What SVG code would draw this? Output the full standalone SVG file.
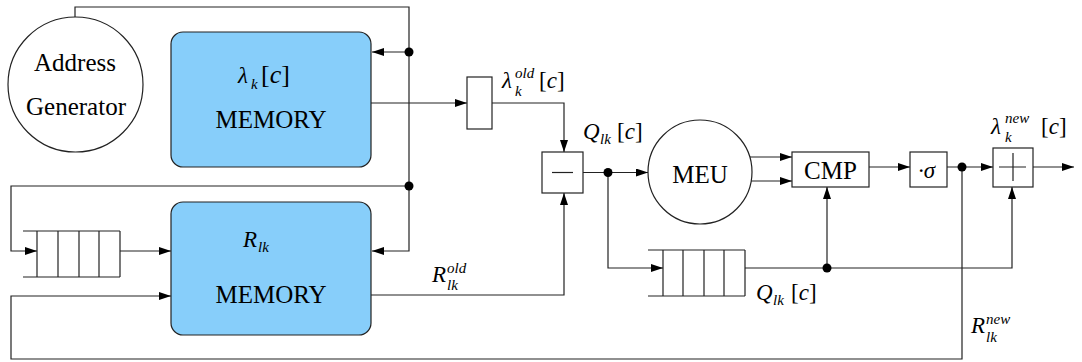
<svg xmlns="http://www.w3.org/2000/svg" width="1082" height="362" viewBox="0 0 1082 362">
<style>
.ln{fill:none;stroke:#222;stroke-width:1.2}
.ar{marker-end:url(#ah)}
.bx{fill:#fff;stroke:#222;stroke-width:1.2}
.mem{fill:#87cefa;stroke:#222;stroke-width:1.2}
text{font-family:'Liberation Serif',Tinos,'Times New Roman',Times,'Nimbus Roman',FreeSerif,'Noto Serif','DejaVu Serif',serif;fill:#000}
.t{font-size:25px;text-anchor:middle}
.m{font-size:23px;font-style:italic}
.s{font-size:15px;font-style:italic}
.i{font-style:italic}
.u{font-style:normal}
.dot{fill:#000}
</style>
<defs>
<marker id="ah" markerUnits="userSpaceOnUse" markerWidth="13" markerHeight="9" refX="12" refY="4" orient="auto">
<path d="M0,0 L12,4 L0,8 z" fill="#000"/>
</marker>
</defs>
<rect width="1082" height="362" fill="#fff"/>

<g id="connectors">
<path class="ln ar" d="M75,17 V7 H409 V251 H372"/>
<path class="ln ar" d="M409,52 H372"/>
<path class="ln ar" d="M409,186 H11 V251 H37"/>
<path class="ln ar" d="M120,251 H171"/>
<path class="ln ar" d="M962,167 V359 H11 V296 H171"/>
<path class="ln ar" d="M371,103 H467"/>
<path class="ln ar" d="M492,103 H564 V152"/>
<path class="ln ar" d="M371,295 H564 V193"/>
<path class="ln ar" d="M583,172.5 H648"/>
<path class="ln ar" d="M608,172.5 V268 H663"/>
<path class="ln ar" d="M750,157 H792"/>
<path class="ln ar" d="M751,181 H792"/>
<path class="ln ar" d="M745,268 H1012 V187"/>
<path class="ln ar" d="M827,268 V187"/>
<path class="ln ar" d="M869,167 H910"/>
<path class="ln ar" d="M947,167 H993"/>
<path class="ln ar" d="M1033,167 H1074"/>
<circle class="dot" cx="409" cy="52" r="4.5"/>
<circle class="dot" cx="409" cy="186" r="4.5"/>
<circle class="dot" cx="608" cy="172.5" r="4.5"/>
<circle class="dot" cx="827" cy="268" r="4.5"/>
<circle class="dot" cx="962" cy="167" r="4.5"/>
</g>

<g id="address-generator">
<circle class="bx" cx="75.5" cy="84.5" r="67.5"/>
<text class="t" x="75" y="71" font-size="23">Address</text>
<text class="t" x="76" y="115" font-size="23">Generator</text>
</g>

<g id="lambda-memory">
<rect class="mem" x="171" y="32" width="200" height="135" rx="12"/>
<text class="m" x="238" y="83" font-size="26">λ</text>
<text class="s" x="251" y="89">k</text>
<text class="u" x="261" y="83" font-size="26">[<tspan class="i">c</tspan>]</text>
<text class="t" x="271" y="128" font-size="26">MEMORY</text>
</g>

<g id="r-memory">
<rect class="mem" x="171" y="202" width="200" height="133" rx="12"/>
<text class="m" x="243" y="247" font-size="24">R</text>
<text class="s" x="258" y="252">lk</text>
<text class="t" x="271" y="303" font-size="26">MEMORY</text>
</g>

<g id="queue-1">
<path class="ln" d="M23,231 H120 M23,277 H120 M37,231 V277 M58,231 V277 M79,231 V277 M99,231 V277 M120,231 V277"/>
</g>

<g id="delay-box">
<rect class="bx" x="467" y="77" width="25" height="52"/>
</g>
<g id="lambda-old-label">
<text class="m" x="502" y="88">λ</text>
<text class="s" x="515" y="78">old</text>
<text class="s" x="515" y="96">k</text>
<text class="u" x="539" y="88" font-size="23">[<tspan class="i">c</tspan>]</text>
</g>

<g id="r-old-label">
<text class="m" x="432" y="282">R</text>
<text class="s" x="447" y="273">old</text>
<text class="s" x="447" y="290">lk</text>
</g>

<g id="subtract">
<rect class="bx" x="542" y="152" width="41" height="41"/>
<path class="ln" d="M552,172.5 H573"/>
</g>

<g id="q-label-top">
<text class="m" x="583" y="139">Q</text>
<text class="s" x="600" y="144">lk</text>
<text class="u" x="617" y="139" font-size="23">[<tspan class="i">c</tspan>]</text>
</g>

<g id="meu">
<circle class="bx" cx="700" cy="172" r="52"/>
<text class="t" x="700" y="183">MEU</text>
</g>

<g id="queue-2">
<path class="ln" d="M648,250 H745 M648,296 H745 M663,250 V296 M683,250 V296 M704,250 V296 M724,250 V296 M745,250 V296"/>
</g>

<g id="q-label-bottom">
<text class="m" x="756" y="300">Q</text>
<text class="s" x="773" y="305">lk</text>
<text class="u" x="791" y="300" font-size="23">[<tspan class="i">c</tspan>]</text>
</g>

<g id="cmp">
<rect class="bx" x="792" y="152" width="77" height="35"/>
<text class="t" x="830.5" y="179">CMP</text>
</g>

<g id="sigma">
<rect class="bx" x="910" y="152" width="37" height="35"/>
<text class="m" x="918" y="178">·σ</text>
</g>

<g id="adder">
<rect class="bx" x="993" y="148" width="40" height="39"/>
<path class="ln" d="M999,167 H1026 M1013,153 V181"/>
</g>

<g id="lambda-new-label">
<text class="m" x="991" y="134">λ</text>
<text class="s" x="1005" y="123">new</text>
<text class="s" x="1005" y="142">k</text>
<text class="u" x="1041" y="134" font-size="23">[<tspan class="i">c</tspan>]</text>
</g>

<g id="r-new-label">
<text class="m" x="971" y="333">R</text>
<text class="s" x="986" y="324">new</text>
<text class="s" x="986" y="342">lk</text>
</g>
</svg>
